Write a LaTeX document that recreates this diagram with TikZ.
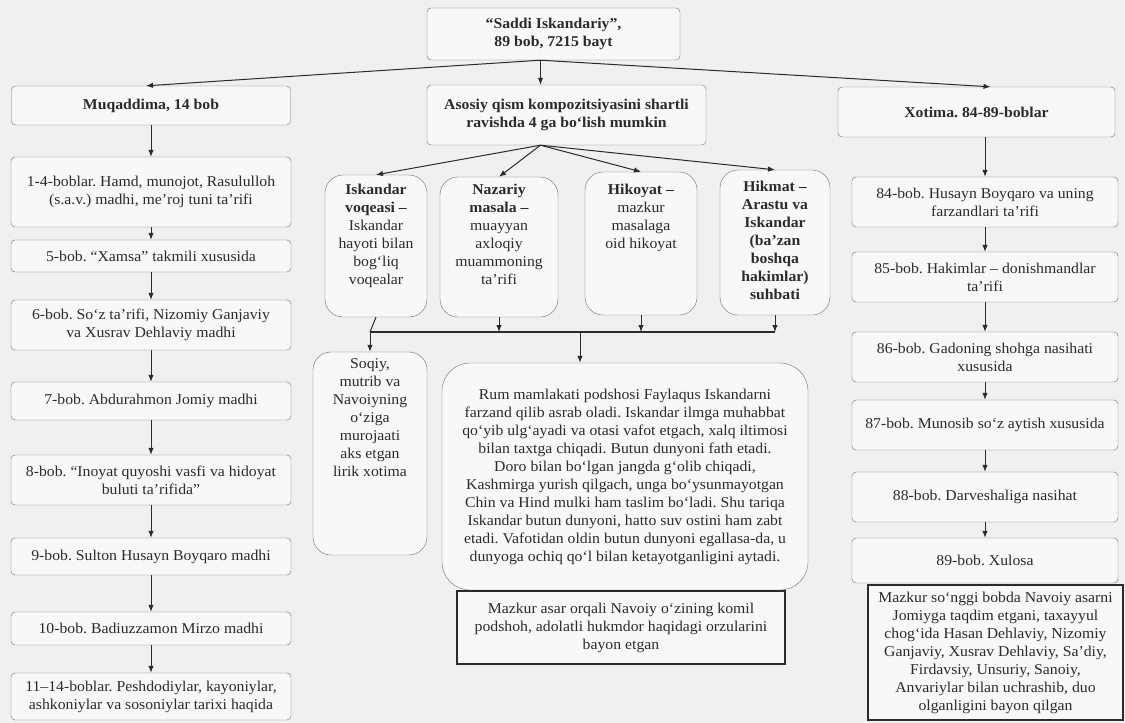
\documentclass[tikz,border=0pt]{standalone}
\usepackage{fontspec}
\setmainfont{Liberation Serif}[FakeStretch = 1.05]
\usetikzlibrary{arrows.meta}

\definecolor{paper}{HTML}{F0F0EE}
\definecolor{frame}{HTML}{6E6E6E}
\definecolor{ink}{HTML}{2B2B2B}

\newcommand{\topcell}[4]{\parbox[c][#1][t]{#2}{\centering\vspace*{#3}#4}}

\begin{document}
\frenchspacing
\begin{tikzpicture}[
    x = 1pt, y = -1pt,
    >={Latex[length=7pt, width=5.5pt]},
    every node/.style = {font = \fontsize{15}{18}\selectfont, text = ink},
    bold/.style = {font = \fontsize{15}{18}\selectfont\bfseries},
    box/.style = {draw = frame, fill = white!55!paper, rounded corners = 4pt,
                  align = center, inner sep = 2pt},
    bigbox/.style = {box, rounded corners = 18pt, inner sep = 0pt},
    note/.style = {draw = ink, line width = 1.3pt, fill = white!55!paper,
                   align = center, inner sep = 2pt},
    link/.style = {->, draw = ink, line width = 1pt}]

\useasboundingbox[fill = paper] (0,0) rectangle (1125,723);

% top level
\node[box, bold, minimum width = 253pt, minimum height = 52pt] (top) at (553.5,34)
    {“Saddi Iskandariy”,\\89 bob, 7215 bayt};
\node[box, bold, minimum width = 279pt, minimum height = 39pt] (muq) at (151,105.5)
    {Muqaddima, 14 bob};
\node[box, bold, minimum width = 279pt, minimum height = 60pt] (asosiy) at (566.5,115)
    {Asosiy qism kompozitsiyasini shartli\\ravishda 4 ga bo‘lish mumkin};
\node[box, bold, minimum width = 277pt, minimum height = 50pt] (xot) at (976.5,112)
    {Xotima. 84-89-boblar};

% muqaddima
\node[box, minimum width = 280pt, minimum height = 70pt] (b14) at (151,192)
    {1-4-boblar. Hamd, munojot, Rasululloh\\(s.a.v.) madhi, me’roj tuni ta’rifi};
\node[box, minimum width = 280pt, minimum height = 32pt] (b5) at (151,256)
    {5-bob. “Xamsa” takmili xususida};
\node[box, minimum width = 280pt, minimum height = 50pt] (b6) at (151,325)
    {6-bob. So‘z ta’rifi, Nizomiy Ganjaviy\\va Xusrav Dehlaviy madhi};
\node[box, minimum width = 280pt, minimum height = 38pt] (b7) at (151,401)
    {7-bob. Abdurahmon Jomiy madhi};
\node[box, minimum width = 280pt, minimum height = 50pt] (b8) at (151,480)
    {8-bob. “Inoyat quyoshi vasfi va hidoyat\\buluti ta’rifida”};
\node[box, minimum width = 280pt, minimum height = 37pt] (b9) at (151,556.5)
    {9-bob. Sulton Husayn Boyqaro madhi};
\node[box, minimum width = 280pt, minimum height = 33pt] (b10) at (151,628.5)
    {10-bob. Badiuzzamon Mirzo madhi};
\node[box, minimum width = 280pt, minimum height = 47pt] (b1114) at (151,696.5)
    {11–14-boblar. Peshdodiylar, kayoniylar,\\ashkoniylar va sosoniylar tarixi haqida};

% asosiy qism
\node[bigbox] (isk) at (376,246)
    {\topcell{142pt}{102pt}{9pt}{{\bfseries Iskandar\\voqeasi –}\\Iskandar\\hayoti bilan\\bog‘liq\\voqealar}};
\node[bigbox] (naz) at (499,247)
    {\topcell{140pt}{118pt}{7pt}{{\bfseries Nazariy\\masala –}\\muayyan\\axloqiy\\muammoning\\ta’rifi}};
\node[bigbox] (hik) at (641,243.5)
    {\topcell{143pt}{112pt}{12pt}{{\bfseries Hikoyat –}\\mazkur\\masalaga\\oid hikoyat}};
\node[bigbox] (hkm) at (775,242.5)
    {\topcell{145pt}{110pt}{11pt}{{\bfseries Hikmat –\\Arastu va\\Iskandar\\(ba’zan\\boshqa\\hakimlar)\\suhbati}}};
\node[bigbox] (soq) at (370,453.5)
    {\topcell{203pt}{114pt}{7pt}{Soqiy,\\mutrib va\\Navoiyning\\o‘ziga\\murojaati\\aks etgan\\lirik xotima}};
\node[box, rounded corners = 28pt, minimum width = 366pt, minimum height = 227pt] (rum) at (625,476.5)
    {Rum mamlakati podshosi Faylaqus Iskandarni\\farzand qilib asrab oladi. Iskandar ilmga muhabbat\\qo‘yib ulg‘ayadi va otasi vafot etgach, xalq iltimosi\\bilan taxtga chiqadi. Butun dunyoni fath etadi.\\Doro bilan bo‘lgan jangda g‘olib chiqadi,\\Kashmirga yurish qilgach, unga bo‘ysunmayotgan\\Chin va Hind mulki ham taslim bo‘ladi. Shu tariqa\\Iskandar butun dunyoni, hatto suv ostini ham zabt\\etadi. Vafotidan oldin butun dunyoni egallasa-da, u\\dunyoga ochiq qo‘l bilan ketayotganligini aytadi.};
\node[note, minimum width = 328pt, minimum height = 73pt] (asar) at (621,627.5)
    {Mazkur asar orqali Navoiy o‘zining komil\\podshoh, adolatli hukmdor haqidagi orzularini\\bayon etgan};

% xotima
\node[box, minimum width = 266pt, minimum height = 50pt] (b84) at (985,202)
    {84-bob. Husayn Boyqaro va uning\\farzandlari ta’rifi};
\node[box, minimum width = 266pt, minimum height = 50pt] (b85) at (985,277)
    {85-bob. Hakimlar – donishmandlar\\ta’rifi};
\node[box, minimum width = 266pt, minimum height = 50pt] (b86) at (985,357)
    {86-bob. Gadoning shohga nasihati\\xususida};
\node[box, minimum width = 266pt, minimum height = 50pt] (b87) at (985,425)
    {87-bob. Munosib so‘z aytish xususida};
\node[box, minimum width = 266pt, minimum height = 50pt] (b88) at (985,497)
    {88-bob. Darveshaliga nasihat};
\node[box, minimum width = 266pt, minimum height = 45pt] (b89) at (985,560.5)
    {89-bob. Xulosa};
\node[note, minimum width = 255pt, minimum height = 135pt] (xulosa) at (995.5,652.5)
    {Mazkur so‘nggi bobda Navoiy asarni\\Jomiyga taqdim etgani, taxayyul\\chog‘ida Hasan Dehlaviy, Nizomiy\\Ganjaviy, Xusrav Dehlaviy, Sa’diy,\\Firdavsiy, Unsuriy, Sanoiy,\\Anvariylar bilan uchrashib, duo\\olganligini bayon qilgan};

\coordinate (tsplit) at ([xshift=-13pt]top.south);
\coordinate (asplit) at ([xshift=-26pt]asosiy.south);
\coordinate (bus) at (0,332);

\draw[link] (tsplit) -- (tsplit |- asosiy.north);
\draw[link] (tsplit) -- ([xshift=-5pt]muq.north);
\draw[link] (tsplit) -- ([xshift=14pt]xot.north);

\draw[link] (muq) -- (b14);
\draw[link] (b14) -- (b5);
\draw[link] (b5) -- (b6);
\draw[link] (b6) -- (b7);
\draw[link] (b7) -- (b8);
\draw[link] (b8) -- (b9);
\draw[link] (b9) -- (b10);
\draw[link] (b10) -- (b1114);

\draw[link] (asplit) -- (isk.north);
\draw[link] (asplit) -- (naz.north);
\draw[link] (asplit) -- (hik.north);
\draw[link] (asplit) -- (hkm.north);

\draw[draw = ink, line width = 1.1pt] (soq.north |- bus) -- (hkm.south |- bus);
\draw[draw = ink, line width = 1pt] (isk.south) -- (soq.north |- bus);
\draw[link] (naz.south) -- (naz.south |- bus);
\draw[link] (hik.south) -- (hik.south |- bus);
\draw[link] (hkm.south) -- (hkm.south |- bus);
\draw[link] (soq.north |- bus) -- (soq.north);
\draw[link] ([xshift=-45pt]rum.north |- bus) -- ([xshift=-45pt]rum.north);

\draw[link] (b84.north |- xot.south) -- (b84.north);
\draw[link] (b84) -- (b85);
\draw[link] (b85) -- (b86);
\draw[link] (b86) -- (b87);
\draw[link] (b87) -- (b88);
\draw[link] (b88) -- (b89);
\end{tikzpicture}
\end{document}
